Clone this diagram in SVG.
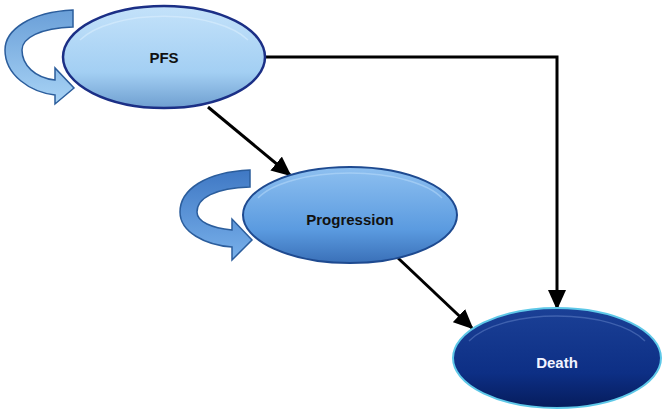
<svg xmlns="http://www.w3.org/2000/svg" width="664" height="416" viewBox="0 0 664 416">
<style>
.lbl{font-family:"Liberation Sans",Arial,sans-serif;font-weight:bold;font-size:15px;text-anchor:middle;dominant-baseline:central}
.conn{fill:none;stroke:#000;stroke-width:3}
.loop{stroke:#2b5d9c;stroke-width:1.5;stroke-linejoin:miter}
.hl{fill:none;stroke-width:1.5;opacity:0.45}
</style>
<defs>
<marker id="ah" markerUnits="userSpaceOnUse" viewBox="0 0 20 18" refX="18" refY="9" markerWidth="20" markerHeight="18" orient="auto">
<path d="M0,0 L20,9 L0,18 Z" fill="#000"/>
</marker>
<linearGradient id="gPFS" x1="0" y1="0" x2="0" y2="1">
<stop offset="0" stop-color="#c4e2fa"/><stop offset="0.65" stop-color="#a3cff3"/><stop offset="1" stop-color="#6f9fd0"/>
</linearGradient>
<linearGradient id="gProg" x1="0" y1="0" x2="0" y2="1">
<stop offset="0" stop-color="#8ec0f0"/><stop offset="0.65" stop-color="#5b9be0"/><stop offset="1" stop-color="#3a70b8"/>
</linearGradient>
<linearGradient id="gDeath" x1="0" y1="0" x2="0" y2="1">
<stop offset="0" stop-color="#1b4096"/><stop offset="0.65" stop-color="#0d2f85"/><stop offset="1" stop-color="#061c5c"/>
</linearGradient>
<linearGradient id="gLoop1" x1="0" y1="0" x2="0" y2="1">
<stop offset="0" stop-color="#6a9fd8"/><stop offset="1" stop-color="#a8d3f5"/>
</linearGradient>
<linearGradient id="gLoop2" x1="0" y1="0" x2="0" y2="1">
<stop offset="0" stop-color="#3f78c4"/><stop offset="1" stop-color="#78b0ea"/>
</linearGradient>
</defs>
<g id="connectors">
<polyline class="conn" points="265,57 557,57 557,308" marker-end="url(#ah)"/>
<line class="conn" x1="208" y1="107" x2="290" y2="175" marker-end="url(#ah)"/>
<line class="conn" x1="398" y1="258" x2="472" y2="328" marker-end="url(#ah)"/>
</g>
<g id="pfs-loop">
<path class="loop" fill="url(#gLoop1)" d="M73,10 C30,12 5,30 5,50 C5,75 30,92 55,95 L55,104 L74,88 L55,68 L55,80 C35,78 22,65 22,50 C22,38 40,28 73,27 Z"/>
</g>
<g id="progression-loop">
<path class="loop" fill="url(#gLoop2)" d="M250,170 C205,172 180,190 180,212 C180,232 205,245 232,247 L232,260 L252,240 L232,219 L232,230 C212,228 197,222 197,212 C197,198 215,188 250,187 Z"/>
</g>
<g id="pfs">
<ellipse cx="164" cy="57" rx="101" ry="51" fill="url(#gPFS)" stroke="#1b2f86" stroke-width="2.5"/>
<path class="hl" stroke="#e4f3ff" d="M80,40 A92,40 0 0 1 248,40"/>
<text class="lbl" x="164" y="57" fill="#111">PFS</text>
</g>
<g id="progression">
<ellipse cx="350" cy="215" rx="107" ry="48" fill="url(#gProg)" stroke="#1e4a90" stroke-width="2"/>
<path class="hl" stroke="#c4e2fc" d="M258,198 A98,38 0 0 1 442,198"/>
<text class="lbl" x="350" y="219" fill="#111">Progression</text>
</g>
<g id="death">
<ellipse cx="557" cy="358" rx="104" ry="50" fill="url(#gDeath)" stroke="#5ec8e8" stroke-width="2"/>
<path class="hl" stroke="#6f8fd0" d="M469,341 A95,40 0 0 1 645,341"/>
<text class="lbl" x="557" y="362" fill="#f2f4ff">Death</text>
</g>
</svg>
